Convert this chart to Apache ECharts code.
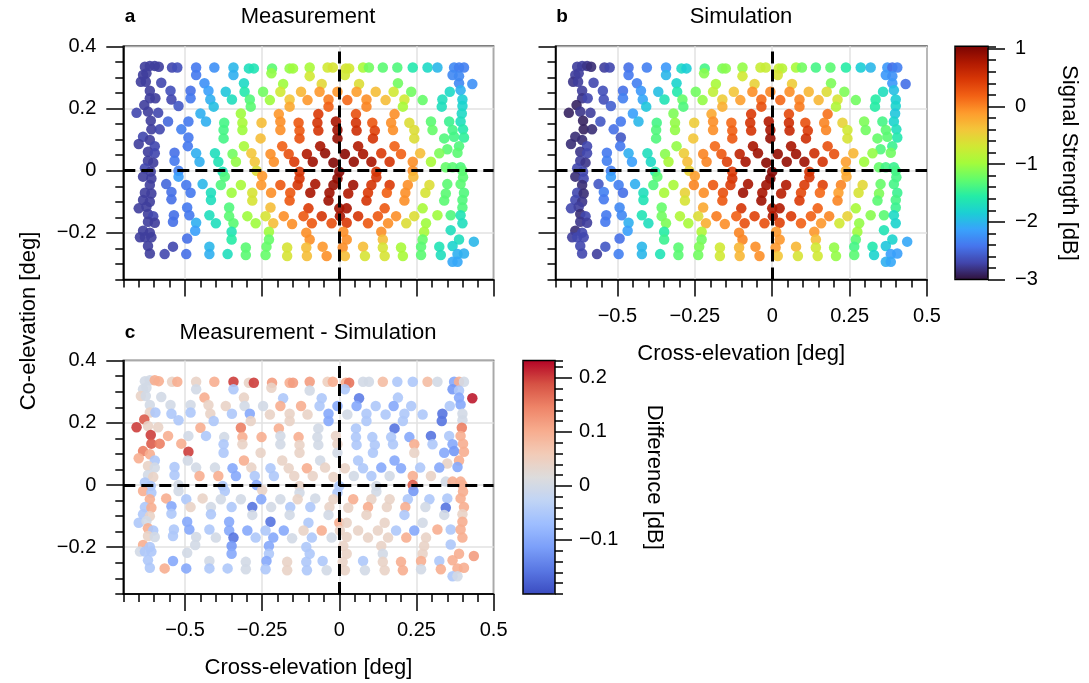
<!DOCTYPE html>
<html>
<head>
<meta charset="utf-8">
<script src="https://cdn.jsdelivr.net/npm/echarts@6/dist/echarts.min.js"></script>
<style>html,body{margin:0;background:#fff}#main{width:1089px;height:683px}</style>
</head>
<body>
<div id="main"></div>
<script>
// scan positions [deg], one row of the raster per line (same positions in all panels)
var crossEl = [
  -0.630,-0.614,-0.598,-0.585,-0.542,-0.525,-0.464,-0.405,-0.343,-0.293,-0.277,-0.218,-0.161,-0.150,-0.096,-0.038,-0.021,0.021,0.032,0.077,0.096,0.141,0.188,0.238,0.286,0.318,0.372,0.388,0.404,
  -0.636,-0.625,-0.464,-0.343,-0.220,-0.096,0.018,0.367,0.388,
  -0.643,-0.627,-0.577,-0.437,-0.309,-0.182,-0.057,0.064,0.190,0.388,0.431,
  -0.614,-0.547,-0.482,-0.424,-0.368,-0.307,-0.247,-0.191,-0.124,-0.064,-0.006,0.056,0.118,0.176,0.233,0.358,0.393,
  -0.614,-0.596,-0.544,-0.482,-0.418,-0.348,-0.290,-0.225,-0.161,-0.103,-0.035,0.026,0.088,0.150,0.211,0.270,0.334,0.399,
  -0.632,-0.521,-0.407,-0.287,-0.161,-0.035,0.088,0.206,0.332,0.399,
  -0.657,-0.620,-0.587,-0.450,-0.319,-0.196,-0.068,0.054,0.179,0.397,
  -0.611,-0.555,-0.489,-0.432,-0.373,-0.314,-0.252,-0.191,-0.132,-0.071,-0.011,0.054,0.107,0.168,0.227,0.297,0.356,0.393,
  -0.609,-0.582,-0.512,-0.375,-0.314,-0.191,-0.129,-0.068,-0.006,0.056,0.115,0.174,0.243,0.302,0.367,0.401,
  -0.636,-0.614,-0.489,-0.375,-0.255,-0.129,-0.006,0.109,0.243,0.340,0.372,0.404,
  -0.650,-0.598,-0.491,-0.309,-0.185,-0.062,0.061,0.179,0.350,0.388,
  -0.620,-0.598,-0.534,-0.464,-0.403,-0.346,-0.285,-0.223,-0.164,-0.105,-0.046,0.018,0.077,0.136,0.200,0.262,0.324,0.383,
  -0.620,-0.603,-0.534,-0.453,-0.392,-0.335,-0.274,-0.212,-0.146,-0.086,-0.019,0.047,0.104,0.163,0.238,0.297,0.345,0.367,0.393,
  -0.630,-0.611,-0.521,-0.378,-0.268,-0.250,-0.129,0.000,0.120,0.238,0.399,
  -0.636,-0.609,-0.521,-0.371,-0.129,-0.006,0.120,0.240,0.401,
  -0.614,-0.561,-0.496,-0.443,-0.384,-0.319,-0.253,-0.191,-0.135,-0.078,-0.019,0.045,0.104,0.163,0.222,0.292,0.350,0.393,
  -0.630,-0.609,-0.544,-0.482,-0.416,-0.349,-0.282,-0.221,-0.159,-0.094,-0.032,0.029,0.093,0.154,0.214,0.279,0.345,0.404,
  -0.636,-0.614,-0.544,-0.416,-0.282,-0.161,-0.035,0.088,0.211,0.340,0.399,
  -0.650,-0.625,-0.493,-0.357,-0.223,-0.100,0.000,0.024,0.147,0.270,0.399,
  -0.620,-0.603,-0.536,-0.486,-0.421,-0.357,-0.298,-0.239,-0.180,-0.116,-0.057,0.002,0.061,0.125,0.184,0.243,0.318,0.361,0.393,
  -0.620,-0.598,-0.539,-0.464,-0.400,-0.343,-0.271,-0.214,-0.153,-0.089,-0.025,0.024,0.093,0.158,0.217,0.281,0.399,
  -0.636,-0.614,-0.467,-0.349,-0.228,-0.107,0.013,0.136,0.275,0.361,
  -0.646,-0.630,-0.609,-0.493,-0.349,-0.228,-0.096,0.024,0.141,0.270,0.388,
  -0.620,-0.539,-0.421,-0.303,-0.236,-0.169,-0.107,-0.054,0.011,0.077,0.141,0.200,0.265,0.324,0.367,0.436,
  -0.614,-0.566,-0.496,-0.421,-0.362,-0.303,-0.239,-0.169,-0.105,-0.041,0.018,0.083,0.147,0.206,0.265,0.329,0.383,0.404,
  0.367,0.383
];
var coEl = [
  0.334,0.337,0.337,0.334,0.332,0.332,0.332,0.332,0.332,0.329,0.329,0.329,0.329,0.329,0.332,0.332,0.332,0.329,0.329,0.332,0.332,0.332,0.332,0.332,0.332,0.332,0.332,0.332,0.332,
  0.308,0.313,0.308,0.308,0.313,0.304,0.308,0.308,0.304,
  0.286,0.286,0.283,0.281,0.281,0.279,0.279,0.279,0.281,0.281,0.279,
  0.257,0.257,0.257,0.257,0.254,0.254,0.254,0.254,0.254,0.254,0.254,0.254,0.254,0.254,0.254,0.254,0.259,
  0.233,0.233,0.229,0.233,0.229,0.229,0.229,0.227,0.229,0.227,0.229,0.227,0.229,0.227,0.229,0.227,0.229,0.229,
  0.211,0.208,0.206,0.206,0.206,0.206,0.206,0.206,0.206,0.208,
  0.186,0.190,0.186,0.184,0.184,0.182,0.182,0.182,0.182,0.184,
  0.161,0.158,0.158,0.158,0.154,0.154,0.154,0.158,0.154,0.154,0.158,0.154,0.154,0.154,0.154,0.158,0.158,0.158,
  0.133,0.133,0.133,0.131,0.131,0.131,0.129,0.129,0.131,0.129,0.129,0.131,0.131,0.131,0.131,0.133,
  0.109,0.099,0.107,0.104,0.104,0.104,0.104,0.104,0.104,0.104,0.109,0.107,
  0.086,0.079,0.079,0.079,0.079,0.079,0.079,0.079,0.069,0.079,
  0.061,0.056,0.058,0.056,0.056,0.054,0.056,0.054,0.054,0.054,0.056,0.054,0.054,0.056,0.054,0.056,0.056,0.058,
  0.032,0.026,0.032,0.029,0.029,0.029,0.029,0.029,0.029,0.029,0.026,0.029,0.029,0.029,0.029,0.029,0.011,0.011,0.011,
  0.008,-0.003,0.000,-0.003,0.000,-0.017,-0.003,-0.003,-0.003,0.000,0.000,
  -0.019,-0.025,-0.019,-0.019,-0.025,-0.025,-0.021,-0.019,-0.021,
  -0.046,-0.043,-0.046,-0.043,-0.046,-0.046,-0.046,-0.046,-0.046,-0.043,-0.046,-0.046,-0.046,-0.046,-0.046,-0.046,-0.043,-0.043,
  -0.071,-0.073,-0.068,-0.071,-0.071,-0.071,-0.071,-0.071,-0.071,-0.071,-0.071,-0.073,-0.071,-0.071,-0.071,-0.071,-0.073,-0.071,
  -0.094,-0.100,-0.092,-0.094,-0.096,-0.096,-0.096,-0.096,-0.096,-0.096,-0.094,
  -0.121,-0.116,-0.118,-0.118,-0.118,-0.121,-0.121,-0.121,-0.121,-0.121,-0.118,
  -0.139,-0.146,-0.143,-0.143,-0.143,-0.146,-0.146,-0.146,-0.146,-0.146,-0.146,-0.146,-0.146,-0.146,-0.146,-0.146,-0.143,-0.143,-0.143,
  -0.164,-0.167,-0.164,-0.167,-0.169,-0.169,-0.169,-0.169,-0.171,-0.169,-0.169,-0.167,-0.169,-0.169,-0.169,-0.169,-0.169,
  -0.193,-0.199,-0.193,-0.196,-0.196,-0.199,-0.196,-0.196,-0.196,-0.191,
  -0.214,-0.214,-0.214,-0.218,-0.221,-0.221,-0.221,-0.221,-0.221,-0.221,-0.221,
  -0.242,-0.244,-0.244,-0.247,-0.244,-0.247,-0.247,-0.244,-0.247,-0.244,-0.247,-0.247,-0.244,-0.244,-0.242,-0.228,
  -0.266,-0.268,-0.268,-0.268,-0.268,-0.271,-0.271,-0.274,-0.274,-0.274,-0.274,-0.274,-0.274,-0.274,-0.271,-0.271,-0.268,-0.266,
  -0.293,-0.293
];
// signal strength [dB], panel a
var measured = [
  -2.75,-2.75,-2.75,-2.75,-2.7,-2.65,-2.4,-2.25,-2.0,-1.7,-1.65,-1.3,-1.05,-1.0,-0.95,-0.7,-0.65,-0.65,-0.7,-0.95,-1.2,-1.3,-1.35,-1.6,-1.75,-2.0,-2.3,-2.35,-2.35,
  -2.75,-2.75,-2.4,-2.05,-1.05,-0.7,-0.7,-2.3,-2.3,
  -2.75,-2.75,-2.7,-2.25,-1.75,-1.0,-0.55,-0.6,-1.2,-2.3,-2.25,
  -2.75,-2.65,-2.45,-2.15,-1.9,-1.6,-1.2,-0.7,-0.3,-0.1,-0.1,-0.15,-0.35,-0.7,-1.2,-1.75,-2.05,
  -2.75,-2.75,-2.7,-2.4,-2.05,-1.7,-1.35,-1.0,-0.4,-0.1,0.05,0.15,-0.05,-0.35,-0.7,-1.25,-1.7,-1.85,
  -2.75,-2.6,-1.95,-1.3,-0.2,0.2,0.0,-0.95,-1.7,-1.8,
  -2.7,-2.75,-2.7,-2.05,-1.0,-0.1,0.45,0.3,-0.05,-1.75,
  -2.75,-2.5,-2.4,-2.05,-1.4,-0.95,-0.35,-0.05,0.25,0.5,0.8,0.5,0.25,-0.05,-0.6,-1.3,-1.45,-1.7,
  -2.75,-2.7,-2.35,-1.4,-1.0,-0.05,0.25,0.5,0.85,0.55,0.4,-0.05,-0.6,-1.25,-1.4,-1.6,
  -2.7,-2.75,-2.4,-1.4,-0.35,0.3,0.9,0.5,-0.6,-1.35,-1.4,-1.5,
  -2.75,-2.7,-2.4,-0.95,0.2,0.8,0.75,0.2,-1.3,-1.35,
  -2.75,-2.7,-2.45,-2.05,-1.7,-1.2,-0.4,-0.05,0.3,0.75,0.9,0.95,0.8,0.45,0.2,-0.35,-1.15,-1.3,
  -2.75,-2.75,-2.4,-2.05,-1.65,-1.05,-0.4,-0.05,0.45,0.85,1.0,0.9,0.8,0.5,-0.05,-0.95,-1.25,-1.3,-1.35,
  -2.7,-2.75,-2.35,-1.65,-0.6,-0.1,0.5,1.0,0.5,-0.05,-1.3,
  -2.75,-2.75,-2.15,-1.35,0.5,0.95,0.5,-0.3,-1.3,
  -2.75,-2.5,-2.4,-2.0,-1.35,-0.95,-0.1,0.25,0.5,0.8,0.9,0.85,0.5,0.45,-0.05,-0.6,-1.3,-1.3,
  -2.75,-2.75,-2.45,-2.4,-1.7,-1.0,-0.65,-0.05,0.25,0.8,0.85,0.75,0.45,0.2,-0.05,-0.65,-1.3,-1.35,
  -2.75,-2.75,-2.45,-1.7,-0.65,0.25,0.85,0.5,-0.05,-1.3,-1.35,
  -2.75,-2.75,-2.4,-1.35,-0.35,0.45,0.85,0.8,0.25,-0.95,-1.35,
  -2.75,-2.7,-2.45,-2.4,-1.7,-1.3,-1.0,-0.65,-0.05,0.25,0.5,0.8,0.5,0.25,-0.05,-0.6,-1.0,-1.35,-1.65,
  -2.75,-2.75,-2.45,-2.05,-1.7,-1.3,-1.0,-0.35,-0.05,0.25,0.3,0.45,0.25,-0.05,-0.6,-1.0,-1.7,
  -2.75,-2.75,-2.15,-1.65,-1.0,-0.05,-0.05,-0.05,-0.95,-1.7,
  -2.75,-2.75,-2.75,-2.45,-1.55,-1.25,-0.05,-0.05,-0.35,-1.25,-1.7,
  -2.75,-2.7,-2.0,-1.3,-1.25,-0.65,-0.35,-0.1,-0.05,-0.35,-0.65,-0.95,-1.3,-1.65,-1.8,-2.0,
  -2.75,-2.7,-2.45,-2.05,-1.7,-1.3,-1.25,-0.65,-0.35,-0.05,-0.35,-0.65,-0.65,-0.95,-1.3,-1.7,-2.05,-2.05,
  -2.1,-2.1
];
// signal strength [dB], panel b
var simulated = [
  -2.75,-2.75,-2.8,-2.85,-2.75,-2.7,-2.45,-2.35,-2.2,-1.75,-1.85,-1.4,-1.15,-1.1,-1.05,-0.75,-0.75,-0.75,-0.85,-0.95,-1.2,-1.4,-1.3,-1.55,-1.85,-2.0,-2.2,-2.45,-2.35,
  -2.75,-2.75,-2.4,-2.0,-1.1,-0.7,-0.65,-2.2,-2.25,
  -2.8,-2.75,-2.7,-2.35,-1.8,-0.95,-0.5,-0.45,-1.15,-2.2,-2.45,
  -2.75,-2.65,-2.45,-2.2,-1.95,-1.6,-1.2,-0.8,-0.4,-0.05,0.0,-0.05,-0.3,-0.6,-1.15,-1.7,-1.95,
  -2.8,-2.7,-2.65,-2.35,-2.1,-1.65,-1.25,-1.05,-0.45,-0.15,0.15,0.15,0.0,-0.3,-0.65,-1.2,-1.55,-1.85,
  -2.9,-2.55,-1.9,-1.35,-0.25,0.3,0.05,-0.9,-1.55,-1.8,
  -2.9,-2.8,-2.75,-2.15,-1.15,-0.2,0.45,0.35,0.1,-1.9,
  -2.9,-2.6,-2.4,-2.0,-1.4,-1.05,-0.45,-0.05,0.15,0.5,0.75,0.55,0.3,0.0,-0.5,-1.15,-1.4,-1.8,
  -2.9,-2.85,-2.45,-1.35,-1.05,-0.05,0.2,0.5,0.8,0.6,0.45,0.0,-0.7,-1.2,-1.3,-1.7,
  -2.85,-2.85,-2.6,-1.35,-0.4,0.25,0.9,0.55,-0.65,-1.25,-1.3,-1.6,
  -2.85,-2.7,-2.4,-1.05,0.15,0.8,0.8,0.3,-1.35,-1.45,
  -2.8,-2.7,-2.4,-2.05,-1.7,-1.1,-0.45,0.0,0.25,0.65,0.85,0.9,0.85,0.55,0.3,-0.3,-1.05,-1.2,
  -2.75,-2.8,-2.35,-2.15,-1.75,-0.95,-0.35,0.0,0.4,0.8,0.95,0.9,0.85,0.5,-0.15,-1.0,-1.25,-1.4,-1.45,
  -2.7,-2.7,-2.35,-1.6,-0.5,-0.15,0.45,1.0,0.5,-0.25,-1.4,
  -2.85,-2.7,-2.15,-1.3,0.5,1.0,0.5,-0.2,-1.4,
  -2.85,-2.6,-2.35,-2.05,-1.35,-0.95,0.0,0.25,0.45,0.8,0.85,0.75,0.45,0.4,0.0,-0.55,-1.25,-1.4,
  -2.7,-2.85,-2.35,-2.45,-1.7,-0.95,-0.5,-0.05,0.3,0.85,0.8,0.7,0.35,0.15,-0.15,-0.65,-1.15,-1.45,
  -2.7,-2.8,-2.4,-1.65,-0.65,0.25,0.85,0.45,0.0,-1.3,-1.4,
  -2.7,-2.75,-2.3,-1.25,-0.2,0.5,0.75,0.75,0.2,-0.95,-1.45,
  -2.85,-2.7,-2.4,-2.3,-1.65,-1.2,-0.9,-0.6,0.05,0.2,0.4,0.75,0.45,0.2,0.0,-0.5,-1.1,-1.3,-1.75,
  -2.8,-2.75,-2.4,-2.05,-1.7,-1.15,-0.95,-0.25,-0.05,0.3,0.3,0.4,0.2,-0.1,-0.7,-1.05,-1.8,
  -2.85,-2.7,-2.15,-1.55,-0.9,0.0,-0.1,-0.1,-1.0,-1.65,
  -2.75,-2.7,-2.7,-2.45,-1.45,-1.2,0.0,-0.1,-0.35,-1.3,-1.8,
  -2.7,-2.6,-2.0,-1.3,-1.15,-0.7,-0.3,-0.05,-0.1,-0.3,-0.7,-1.05,-1.4,-1.6,-1.9,-2.1,
  -2.7,-2.75,-2.35,-2.0,-1.65,-1.3,-1.2,-0.7,-0.3,-0.05,-0.4,-0.65,-0.7,-1.05,-1.3,-1.8,-2.15,-2.15,
  -2.05,-2.1
];
// measurement - simulation [dB], panel c
var difference = [
  0.0,0.0,0.1,0.1,0.04,0.1,0.04,0.1,0.2,0.04,0.2,0.12,0.1,0.12,0.12,0.05,0.1,0.1,0.16,0.0,0.0,0.08,-0.05,-0.05,0.08,0.0,-0.1,0.1,0.0,
  0.0,0.0,0.0,-0.05,0.04,0.0,-0.05,-0.12,-0.05,
  0.04,0.0,0.0,0.1,0.04,-0.05,-0.05,-0.15,-0.05,-0.1,0.22,
  0.0,0.0,0.0,0.04,0.04,0.0,0.0,0.1,0.1,-0.05,-0.1,-0.1,-0.05,-0.1,-0.05,-0.05,-0.1,
  0.04,-0.05,-0.05,-0.05,0.04,-0.05,-0.1,0.04,0.04,0.04,-0.1,0.0,-0.05,-0.05,-0.05,-0.05,-0.16,0.0,
  0.18,-0.05,-0.05,0.04,0.04,-0.1,-0.05,-0.05,-0.16,0.0,
  0.2,0.04,0.04,0.1,0.15,0.1,0.0,-0.05,-0.16,0.15,
  0.2,0.1,0.0,-0.05,0.0,0.1,0.1,0.0,0.1,0.0,0.04,-0.05,-0.05,-0.05,-0.1,-0.16,-0.05,0.1,
  0.18,0.15,0.1,-0.05,0.04,0.0,0.04,0.0,0.04,-0.05,-0.05,-0.05,0.1,-0.05,-0.1,0.1,
  0.15,0.1,0.2,-0.05,0.04,0.04,0.0,-0.05,0.04,-0.1,-0.12,0.1,
  0.1,-0.05,0.0,0.1,0.04,0.0,-0.05,-0.1,0.04,0.1,
  0.04,0.0,-0.05,0.0,0.0,-0.1,0.04,-0.05,0.04,0.1,0.04,0.04,-0.05,-0.1,-0.1,-0.05,-0.1,-0.1,
  0.0,0.04,-0.05,0.1,0.1,-0.1,-0.05,-0.05,0.04,0.04,0.04,0.0,-0.05,0.0,0.1,0.04,0.0,0.1,0.1,
  -0.05,-0.05,0.0,-0.05,-0.1,0.04,0.04,-0.05,0.0,0.18,0.1,
  0.1,-0.05,0.0,-0.05,0.0,-0.05,0.0,-0.12,0.1,
  0.1,0.1,-0.05,0.04,0.0,0.0,-0.1,0.0,0.04,0.0,0.04,0.1,0.04,0.04,-0.05,-0.05,-0.05,0.1,
  -0.05,0.1,-0.1,0.04,0.0,-0.05,-0.16,0.0,-0.05,-0.05,0.04,0.04,0.1,0.04,0.1,0.0,-0.16,0.1,
  -0.05,0.04,-0.05,-0.05,0.0,0.0,0.0,0.04,-0.05,0.0,0.04,
  -0.05,0.0,-0.1,-0.1,-0.16,-0.05,0.1,0.04,0.04,0.0,0.1,
  0.1,-0.05,-0.05,-0.1,-0.05,-0.1,-0.1,-0.05,-0.1,0.04,0.1,0.04,0.04,0.04,-0.05,-0.1,0.1,-0.05,0.1,
  0.04,0.0,-0.05,0.0,0.0,-0.16,-0.05,-0.1,0.0,-0.05,0.0,0.04,0.04,0.04,0.1,0.04,0.1,
  0.1,-0.05,0.0,-0.12,-0.1,-0.05,0.04,0.04,0.04,-0.05,
  0.0,-0.05,-0.05,0.0,-0.1,-0.05,-0.05,0.04,0.0,0.04,0.1,
  -0.05,-0.1,0.0,0.0,-0.1,0.04,-0.05,-0.05,0.04,-0.05,0.04,0.1,0.1,-0.05,0.1,0.12,
  -0.05,0.1,-0.1,-0.05,-0.05,0.0,-0.05,0.04,-0.05,0.0,0.04,0.0,0.04,0.1,0.0,0.1,0.1,0.1,
  -0.05,0.0
];

var xTicks = [-0.5, -0.25, 0, 0.25, 0.5];
var yTicks = [-0.2, 0, 0.2, 0.4];
var signalTicks = [-3, -2, -1, 0, 1];
var diffTicks = [-0.1, 0, 0.1, 0.2];

var turbo = ['#30123b','#4145ab','#4675ed','#39a2fc','#1bcfd4','#24eca6','#61fc6c','#a4fc3b',
             '#d1e834','#f3c63a','#fe9b2d','#f36315','#d93806','#b11901','#7a0403'];
var coolwarm = ['#3b4cc0','#5977e3','#7b9ff9','#9ebeff','#c0d4f5','#dddcdc','#f2cbb7','#f7ac8e',
                '#ee8468','#d65244','#b40426'];

var font = '"Liberation Sans", Arial, sans-serif';
var black = { color: '#000', width: 1.5 };

function minus(v) { return String(v).replace('-', '\u2212'); }

function pts(vals) {
  return crossEl.map(function (x, i) { return [x, coEl[i], vals[i]]; });
}

function majorX(g, showLabel, name) {
  return {
    type: 'value', gridIndex: g, position: 'bottom', min: -0.7, max: 0.5,
    axisLine: { show: true, onZero: false, lineStyle: black },
    axisTick: { show: true, length: 17, customValues: xTicks, lineStyle: black },
    axisLabel: { show: showLabel, customValues: xTicks, margin: 27, color: '#000',
                 fontSize: 20, fontFamily: font, formatter: minus },
    splitLine: { show: true, lineStyle: { color: '#e2e2e2', width: 1.5 } },
    name: name, nameLocation: 'middle', nameGap: 63,
    nameTextStyle: { color: '#000', fontSize: 22, fontFamily: font }
  };
}
function majorY(g, showLabel) {
  return {
    type: 'value', gridIndex: g, position: 'left', min: -0.35, max: 0.4,
    axisLine: { show: true, onZero: false, lineStyle: black },
    axisTick: { show: true, length: 17, customValues: yTicks, lineStyle: black },
    axisLabel: { show: showLabel, customValues: yTicks, margin: 27, color: '#000',
                 fontSize: 20, fontFamily: font, formatter: minus },
    splitLine: { show: true, lineStyle: { color: '#e2e2e2', width: 1.5 } }
  };
}
function minor(type, g, pos, min, max, step) {
  return {
    type: 'value', gridIndex: g, position: pos, min: min, max: max, interval: step,
    axisLine: { show: false, onZero: false },
    axisTick: { show: true, length: 8, lineStyle: black },
    axisLabel: { show: false }, splitLine: { show: false }
  };
}
function barAxis(g, min, max, ticks, margin, name, gap) {
  return {
    type: 'value', gridIndex: g, position: 'right', min: min, max: max,
    axisLine: { show: false, onZero: false },
    axisTick: { show: true, length: 17, customValues: ticks, lineStyle: black },
    axisLabel: { show: true, customValues: ticks, margin: margin, color: '#000',
                 fontSize: 20, fontFamily: font, formatter: minus },
    splitLine: { show: false },
    name: name, nameLocation: 'middle', nameGap: gap, nameRotate: -90,
    nameTextStyle: { color: '#000', fontSize: 22, fontFamily: font }
  };
}

var zeroLines = {
  silent: true, symbol: 'none', animation: false, label: { show: false },
  lineStyle: { color: '#000', width: 3, type: [12, 6] },
  data: [{ xAxis: 0 }, { yAxis: 0 }]
};

function scatter(g, vals) {
  return {
    type: 'scatter', xAxisIndex: g, yAxisIndex: g, symbol: 'circle', symbolSize: 10.5,
    itemStyle: { opacity: 0.9 }, data: pts(vals), markLine: zeroLines
  };
}

function label(txt, x, y, size, bold, rot) {
  return {
    type: 'text', x: x, y: y, rotation: rot || 0,
    style: { text: txt, fill: '#000', font: (bold ? 'bold ' : '') + size + 'px ' + font,
             textAlign: 'center', textVerticalAlign: 'middle' }
  };
}

var gridBox = { show: true, borderColor: '#000', borderWidth: 1.5, outerBoundsMode: 'none' };
function grid(l, t, w, h, z) {
  return Object.assign({ left: l, top: t, width: w, height: h, z: z || 0 }, gridBox);
}

var chart = echarts.init(document.getElementById('main'));
chart.setOption({
  animation: false,
  backgroundColor: '#fff',
  grid: [
    grid(123.3, 46.3, 370.3, 233.3),
    grid(555.5, 46.3, 371.5, 233.3),
    grid(123.3, 360.6, 370.3, 233.3),
    grid(955, 46.3, 33, 233.3, 6),
    grid(523, 360.6, 32, 233.3, 6)
  ],
  xAxis: [
    majorX(0, false, ''),
    majorX(1, true, 'Cross-elevation [deg]'),
    majorX(2, true, 'Cross-elevation [deg]'),
    minor('x', 0, 'bottom', -0.7, 0.5, 0.05),
    minor('x', 1, 'bottom', -0.7, 0.5, 0.05),
    minor('x', 2, 'bottom', -0.7, 0.5, 0.05),
    { type: 'value', gridIndex: 3, show: false, min: 0, max: 1 },
    { type: 'value', gridIndex: 4, show: false, min: 0, max: 1 }
  ],
  yAxis: [
    majorY(0, true),
    majorY(1, false),
    majorY(2, true),
    minor('y', 0, 'left', -0.35, 0.4, 0.05),
    minor('y', 1, 'left', -0.35, 0.4, 0.05),
    minor('y', 2, 'left', -0.35, 0.4, 0.05),
    barAxis(3, -3, 1.04, signalTicks, 27, 'Signal Strength [dB]', 70),
    barAxis(4, -0.2, 0.232, diffTicks, 24, 'Difference [dB]', 88),
    minor('y', 3, 'right', -3, 1.04, 0.2),
    minor('y', 4, 'right', -0.2, 0.232, 0.02)
  ],
  visualMap: [
    { type: 'continuous', seriesIndex: [0, 1], dimension: 2, min: -3, max: 1.04,
      inRange: { color: turbo }, calculable: false, hoverLink: false, showLabel: false,
      left: 955, top: 46.3, itemWidth: 33, itemHeight: 233.3, padding: 0 },
    { type: 'continuous', seriesIndex: 2, dimension: 2, min: -0.2, max: 0.232,
      inRange: { color: coolwarm }, calculable: false, hoverLink: false, showLabel: false,
      left: 523, top: 360.6, itemWidth: 32, itemHeight: 233.3, padding: 0 }
  ],
  series: [
    scatter(0, measured),
    scatter(1, simulated),
    scatter(2, difference)
  ],
  graphic: [
    label('a', 130, 17, 19, true),
    label('Measurement', 308, 17, 22),
    label('b', 562, 17, 19, true),
    label('Simulation', 741, 17, 22),
    label('c', 130, 333, 19, true),
    label('Measurement - Simulation', 308, 333, 22),
    label('Co-elevation [deg]', 29, 321, 22, false, Math.PI / 2)
  ]
});
</script>
</body>
</html>
